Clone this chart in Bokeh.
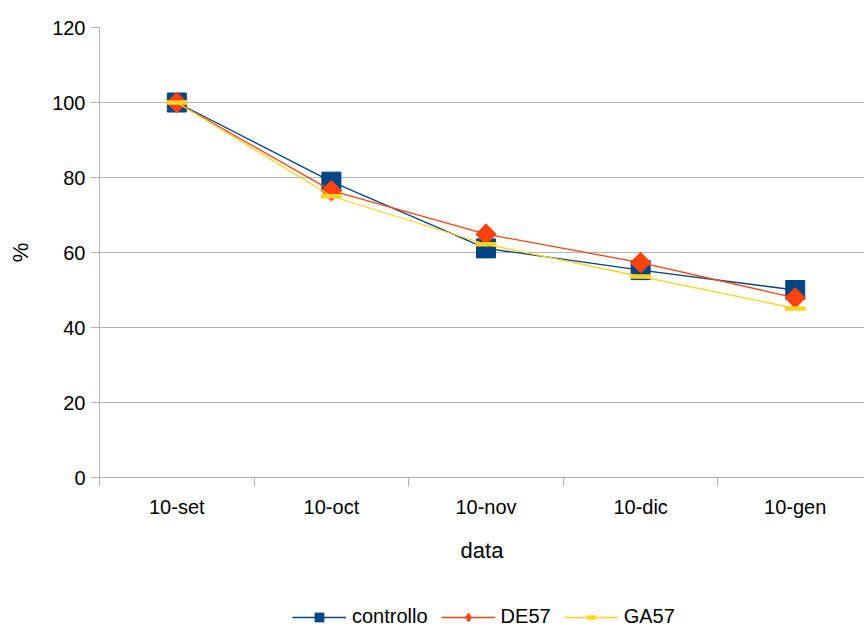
import math
from bokeh.plotting import figure
from bokeh.layouts import column
from bokeh.models import FixedTicker, Legend, LegendItem
from bokeh.embed import file_html
from bokeh.resources import INLINE

# Sampling dates and relative values (%) for each treatment
dates = ["10-set", "10-oct", "10-nov", "10-dic", "10-gen"]
controllo = [100.0, 78.9, 61.1, 55.3, 50.0]
de57 = [100.0, 76.5, 64.9, 57.3, 47.9]
ga57 = [100.0, 75.0, 62.2, 53.6, 45.1]
series_names = ["controllo", "DE57", "GA57"]
y_ticks = [0, 20, 40, 60, 80, 100, 120]

FONT = "Liberation Sans"
GRID = "#b3b3b3"
C_BLUE = "#004586"
C_RED = "#ff420e"
C_YEL = "#ffd320"

xs = list(range(len(dates)))

p = figure(
    frame_width=765, frame_height=450,
    x_range=(-0.5, 4.448), y_range=(0, 120),
    output_backend="svg", toolbar_location=None,
    min_border_left=99, min_border_right=0, min_border_top=27, min_border_bottom=123,
)
p.outline_line_color = None
p.background_fill_color = "white"
p.border_fill_color = "white"

# x axis: labels at category centres, tick marks between categories
p.xaxis.ticker = FixedTicker(ticks=xs, minor_ticks=[-0.5, 0.5, 1.5, 2.5, 3.5])
p.xaxis.major_label_overrides = {i: d for i, d in enumerate(dates)}
p.xaxis.major_tick_line_color = None
p.xaxis.major_tick_out = 0
p.xaxis.major_tick_in = 0
p.xaxis.minor_tick_line_color = GRID
p.xaxis.minor_tick_out = 9
p.xaxis.minor_tick_in = 0
p.xaxis.axis_line_color = GRID
p.xaxis.major_label_standoff = 9
p.xaxis.major_label_text_font = FONT
p.xaxis.major_label_text_font_size = "20px"
p.xaxis.major_label_text_color = "black"
p.xaxis.axis_label = "data"
p.xaxis.axis_label_text_font = FONT
p.xaxis.axis_label_text_font_size = "22px"
p.xaxis.axis_label_text_font_style = "normal"
p.xaxis.axis_label_text_color = "black"
p.xaxis.axis_label_standoff = 17

# y axis
p.yaxis.ticker = FixedTicker(ticks=y_ticks, minor_ticks=[])
p.yaxis.axis_line_color = GRID
p.yaxis.major_tick_line_color = GRID
p.yaxis.major_tick_out = 9
p.yaxis.major_tick_in = 0
p.yaxis.minor_tick_line_color = None
p.yaxis.major_label_standoff = 5
p.yaxis.major_label_text_font = FONT
p.yaxis.major_label_text_font_size = "20px"
p.yaxis.major_label_text_color = "black"
p.yaxis.axis_label = "%"
p.yaxis.axis_label_text_font = FONT
p.yaxis.axis_label_text_font_size = "22px"
p.yaxis.axis_label_text_font_style = "normal"
p.yaxis.axis_label_text_color = "black"
p.yaxis.axis_label_standoff = 16

p.xgrid.grid_line_color = None
p.ygrid.ticker = FixedTicker(ticks=y_ticks)
p.ygrid.grid_line_color = GRID
p.ygrid.grid_line_width = 1


def draw_series(fig, x, y, color, kind, for_legend=False):
    """Connecting line plus the series' marker; returns both renderers."""
    ln = fig.line(x, y, line_color=color, line_width=1.3)
    if kind == "square":
        mk = fig.scatter(x, y, marker="square", size=19, fill_color=color, line_color=color)
    elif kind == "diamond":
        if for_legend:
            mk = fig.scatter(x, y, marker="diamond", size=20, fill_color=color, line_color=color)
        else:
            mk = fig.scatter(x, y, marker="square", size=14.5, angle=math.pi / 4,
                             fill_color=color, line_color=color)
    else:
        mk = fig.scatter(x, y, marker="dash", size=21, line_color=color, line_width=4.5)
    return [ln, mk]


styles = [(C_BLUE, "square"), (C_RED, "diamond"), (C_YEL, "dash")]
all_series = [controllo, de57, ga57]
for vals, (col, kind) in zip(all_series, styles):
    draw_series(p, xs, vals, col, kind)

# legend strip underneath the chart; its view window lies above the data,
# so only the legend entries are visible there
leg = figure(
    width=864, height=28, x_range=(0, 1), y_range=(500, 501),
    output_backend="svg", toolbar_location=None,
    x_axis_type=None, y_axis_type=None, min_border=0,
)
leg.outline_line_color = None
leg.xgrid.grid_line_color = None
leg.ygrid.grid_line_color = None

items = []
for name, vals, (col, kind) in zip(series_names, all_series, styles):
    rs = draw_series(leg, xs, vals, col, kind, for_legend=True)
    items.append(LegendItem(label=name, renderers=rs))

legend = Legend(
    items=items,
    orientation="horizontal",
    location=(193, 0),
    glyph_width=54, glyph_height=22,
    label_standoff=6, spacing=13, padding=0, margin=0,
    label_text_font=FONT, label_text_font_size="20px", label_text_color="black",
    border_line_color=None, background_fill_alpha=0,
)
leg.add_layout(legend, "center")

layout = column(p, leg, spacing=0)
open("out.html", "w").write(file_html(layout, INLINE))
